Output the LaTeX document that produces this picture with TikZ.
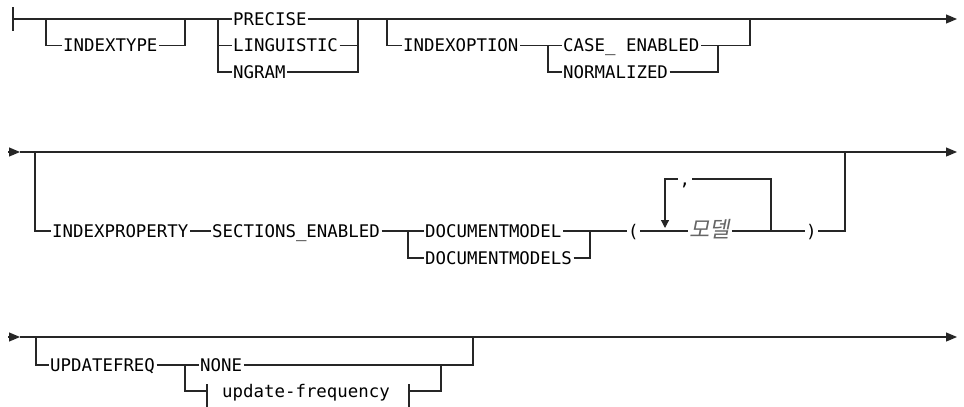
\documentclass[tikz,border=0pt]{standalone}
\usepackage{fontspec}
\setmonofont{DejaVu Sans Mono}
\newfontfamily\kofont[FakeSlant=0.2]{Noto Sans CJK KR}
\usetikzlibrary{arrows.meta, positioning, calc}
\newcommand\kwfont{\ttfamily\fontsize{17.4}{20}\selectfont}
\tikzstyle{kw} = [font=\kwfont, anchor=west, inner xsep=1.5pt, inner ysep=0pt, text height=12.6pt, text depth=0pt]
\tikzstyle{var} = [kw, font=\kofont\fontsize{22}{24}\selectfont, text=black!60]
\tikzstyle{rail} = [draw=black!85, line width=1.2pt]
\tikzstyle{go} = [-{Triangle[length=11pt,width=9pt]}]
\tikzstyle{back} = [-{Triangle[length=8pt,width=8pt]}]

\begin{document}
\begin{tikzpicture}[x=1pt, y=-1pt]
  \useasboundingbox (0,0) rectangle (964,407);

  % first line
  \coordinate (t1) at (13,7);
  \coordinate (t1b) at (13,31);
  \coordinate (s1) at (13,19);
  \coordinate (e1) at (957,19);
  \draw[rail] (t1) -- (t1b);

  \node[kw] (itype) at (61.5,45.5) {INDEXTYPE};
  \coordinate (a1) at (46,19);
  \coordinate (b1) at (185,19);
  \draw[rail] (a1) |- (itype.west);
  \draw[rail] (itype.east) -| (b1);

  \node[kw] (prec) at (231.5,19) {PRECISE};
  \node[kw] (ling) at (231.5,45.5) {LINGUISTIC};
  \node[kw] (ngram) at (231.5,72) {NGRAM};
  \coordinate (c1) at (218,19);
  \coordinate (d1) at (358,19);
  \draw[rail] (s1) -- (prec.west);
  \draw[rail,go] (prec.east) -- (e1);
  \draw[rail] (c1) |- (ling.west);
  \draw[rail] (c1) |- (ngram.west);
  \draw[rail] (ling.east) -| (d1);
  \draw[rail] (ngram.east) -| (d1);

  \node[kw] (iopt) at (401.5,45.5) {INDEXOPTION};
  \node[kw] (case) at (561.5,45.5) {CASE\_ ENABLED};
  \node[kw] (norm) at (561.5,72) {NORMALIZED};
  \coordinate (f1) at (387,19);
  \coordinate (g1) at (548,45.5);
  \coordinate (k1) at (718,45.5);
  \coordinate (h1) at (750,19);
  \draw[rail] (f1) |- (iopt.west);
  \draw[rail] (iopt.east) -- (case.west);
  \draw[rail] (g1) |- (norm.west);
  \draw[rail] (norm.east) -| (k1);
  \draw[rail] (case.east) -| (h1);

  % second line
  \coordinate (s2) at (8,152);
  \coordinate (s2b) at (20,152);
  \coordinate (e2) at (957,152);
  \draw[rail,go] (s2) -- (s2b);
  \draw[rail,go] (s2b) -- (e2);

  \node[kw] (iprop) at (50.5,231) {INDEXPROPERTY};
  \node[kw] (secen) at (210.5,231) {SECTIONS\_ENABLED};
  \coordinate (a2) at (35,152);
  \draw[rail] (a2) |- (iprop.west);
  \draw[rail] (iprop.east) -- (secen.west);

  \node[kw] (dmod) at (423.5,231) {DOCUMENTMODEL};
  \node[kw] (dmods) at (423.5,258) {DOCUMENTMODELS};
  \coordinate (b2) at (408,231);
  \coordinate (c2) at (590,231);
  \draw[rail] (secen.east) -- (dmod.west);
  \draw[rail] (b2) |- (dmods.west);
  \draw[rail] (dmods.east) -| (c2);

  \node[kw] (lpar) at (626.5,231) {(};
  \node[var] (model) at (688,231) {모델};
  \node[kw] (comma) at (677.8,179) {,};
  \node[kw] (rpar) at (804.5,231) {)};
  \coordinate (d2) at (771,231);
  \coordinate (l2) at (665,228);
  \coordinate (h2) at (845,152);
  \draw[rail] (dmod.east) -- (lpar.west);
  \draw[rail] (lpar.east) -- (model.west);
  \draw[rail] (model.east) -- (rpar.west);
  \draw[rail] (d2) |- (comma.east);
  \draw[rail,back] (comma.west) -| (l2);
  \draw[rail] (rpar.east) -| (h2);

  % third line
  \coordinate (s3) at (8,337);
  \coordinate (s3b) at (20,337);
  \coordinate (e3) at (957,337);
  \draw[rail,go] (s3) -- (s3b);
  \draw[rail,go] (s3b) -- (e3);

  \node[kw] (ufreq) at (48.5,365) {UPDATEFREQ};
  \node[kw] (none) at (198.5,365) {NONE};
  \coordinate (a3) at (36,337);
  \coordinate (b3) at (185,365);
  \coordinate (h3) at (473,337);
  \draw[rail] (a3) |- (ufreq.west);
  \draw[rail] (ufreq.east) -- (none.west);
  \draw[rail] (none.east) -| (h3);

  \node[kw] (ufrag) at (220.5,391) {update-frequency};
  \coordinate (p3) at (207,391);
  \coordinate (p3a) at (207,384);
  \coordinate (p3b) at (207,407);
  \coordinate (q3) at (409,391);
  \coordinate (q3a) at (409,384);
  \coordinate (q3b) at (409,407);
  \coordinate (k3) at (441,365);
  \draw[rail] (b3) |- (p3);
  \draw[rail] (p3a) -- (p3b);
  \draw[rail] (q3a) -- (q3b);
  \draw[rail] (q3) -| (k3);
\end{tikzpicture}
\end{document}
